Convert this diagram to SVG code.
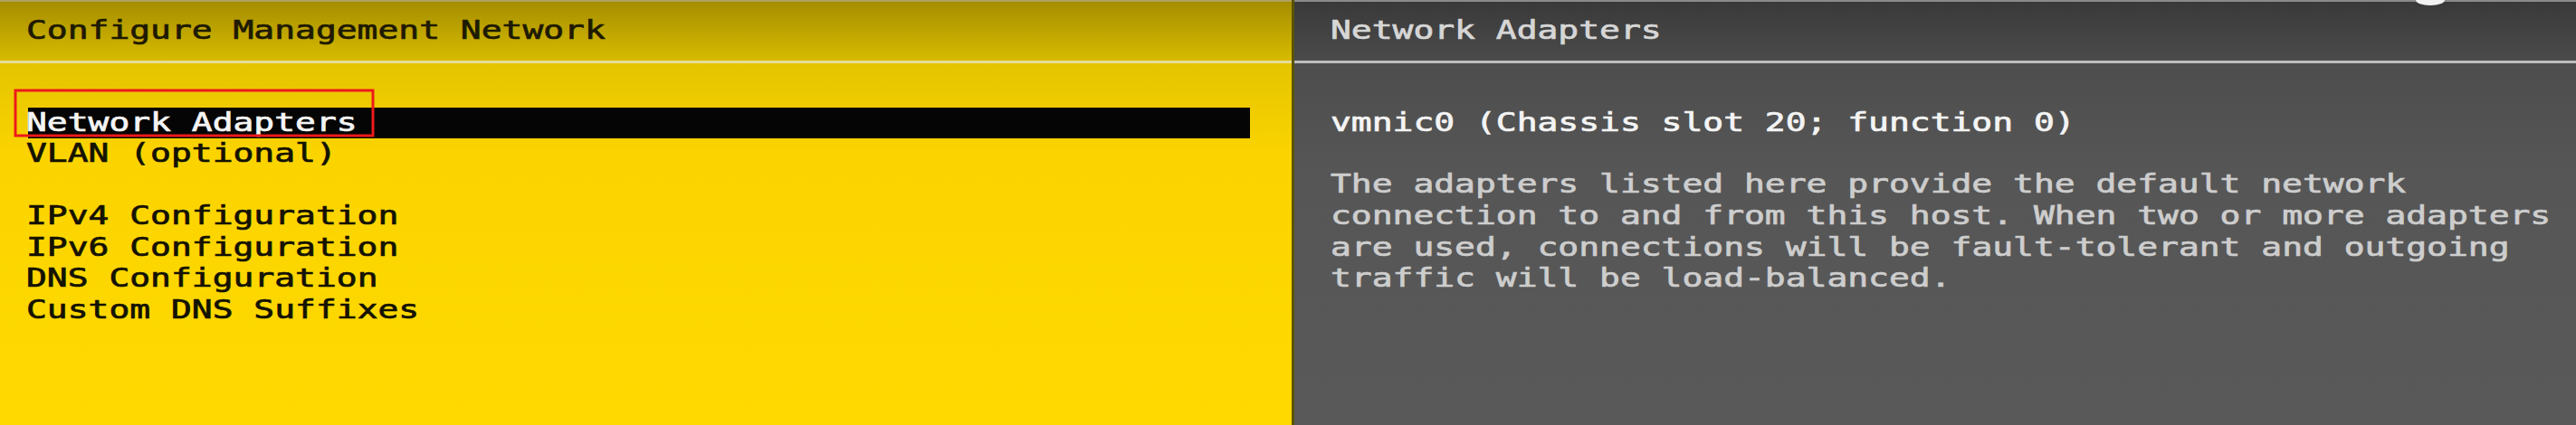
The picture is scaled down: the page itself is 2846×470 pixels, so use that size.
<svg xmlns="http://www.w3.org/2000/svg" width="2846" height="470" viewBox="0 0 2846 470">
<defs>
<linearGradient id="gHeadL" x1="0" y1="0" x2="0" y2="1">
<stop offset="0" stop-color="#a48c00"/>
<stop offset="1" stop-color="#d8bc00"/>
</linearGradient>
<linearGradient id="gBodyL" x1="0" y1="0" x2="0" y2="1">
<stop offset="0" stop-color="#e4c400"/>
<stop offset="0.25" stop-color="#fbd400"/>
<stop offset="1" stop-color="#ffd900"/>
</linearGradient>
<linearGradient id="gHeadR" x1="0" y1="0" x2="0" y2="1">
<stop offset="0" stop-color="#393939"/>
<stop offset="1" stop-color="#4b4b4b"/>
</linearGradient>
<linearGradient id="gBodyR" x1="0" y1="0" x2="0" y2="1">
<stop offset="0" stop-color="#4d4d4d"/>
<stop offset="0.3" stop-color="#565656"/>
<stop offset="1" stop-color="#595959"/>
</linearGradient>
</defs>
<style>
text{font-family:"DejaVu Sans Mono","Liberation Mono",monospace;font-size:28px;stroke-width:0.7px}
.dk{fill:#141200;stroke:#141200}
.hd{fill:#1e1a00;stroke:#1e1a00}
.wh{fill:#f4f4f4;stroke:#f4f4f4}
.rh{fill:#d6d6d6;stroke:#d6d6d6}
.rp{fill:#cdcdcd;stroke:#cdcdcd}
</style>
<g id="left-panel">
<rect x="0" y="0" width="1428" height="68" fill="url(#gHeadL)"/>
<rect x="0" y="70" width="1428" height="400" fill="url(#gBodyL)"/>
<rect x="0" y="67" width="1428" height="3" fill="#e6dc98"/>
<rect x="0" y="0" width="1428" height="2" fill="#b0a060"/>
<text class="hd" x="29" y="43" textLength="639.8" lengthAdjust="spacingAndGlyphs">Configure Management Network</text>
</g>
<g id="divider">
<rect x="1427" y="0" width="3" height="470" fill="#5a5400"/>
</g>
<g id="right-panel">
<rect x="1430" y="0" width="1416" height="68" fill="url(#gHeadR)"/>
<rect x="1430" y="70" width="1416" height="400" fill="url(#gBodyR)"/>
<rect x="1430" y="67" width="1416" height="3" fill="#bdbdbd"/>
<rect x="1430" y="0" width="1416" height="2" fill="#8a8a8a"/>
<ellipse cx="2685" cy="0" rx="16" ry="6" fill="#f2f2f2"/>
<text class="rh" x="1470" y="43" textLength="365.6" lengthAdjust="spacingAndGlyphs">Network Adapters</text>
</g>
<g id="menu">
<rect x="31" y="119" width="1350" height="34" fill="#050505"/>
<text class="wh" x="29" y="145" textLength="365.6" lengthAdjust="spacingAndGlyphs">Network Adapters</text>
<text class="dk" x="29" y="179" textLength="342.8" lengthAdjust="spacingAndGlyphs">VLAN (optional)</text>
<text class="dk" x="29" y="248" textLength="411.3" lengthAdjust="spacingAndGlyphs">IPv4 Configuration</text>
<text class="dk" x="29" y="283" textLength="411.3" lengthAdjust="spacingAndGlyphs">IPv6 Configuration</text>
<text class="dk" x="29" y="317" textLength="388.5" lengthAdjust="spacingAndGlyphs">DNS Configuration</text>
<text class="dk" x="29" y="352" textLength="434.2" lengthAdjust="spacingAndGlyphs">Custom DNS Suffixes</text>
</g>
<g id="highlight-box">
<rect x="17" y="100" width="395" height="50" fill="none" stroke="#ee1a1a" stroke-width="3"/>
</g>
<g id="details">
<text class="wh" x="1470" y="145" textLength="822.6" lengthAdjust="spacingAndGlyphs">vmnic0 (Chassis slot 20; function 0)</text>
<text class="rp" x="1470" y="213" textLength="1188.2" lengthAdjust="spacingAndGlyphs">The adapters listed here provide the default network</text>
<text class="rp" x="1470" y="248" textLength="1348.2" lengthAdjust="spacingAndGlyphs">connection to and from this host. When two or more adapters</text>
<text class="rp" x="1470" y="283" textLength="1302.5" lengthAdjust="spacingAndGlyphs">are used, connections will be fault-tolerant and outgoing</text>
<text class="rp" x="1470" y="317" textLength="685.5" lengthAdjust="spacingAndGlyphs">traffic will be load-balanced.</text>
</g>
</svg>
